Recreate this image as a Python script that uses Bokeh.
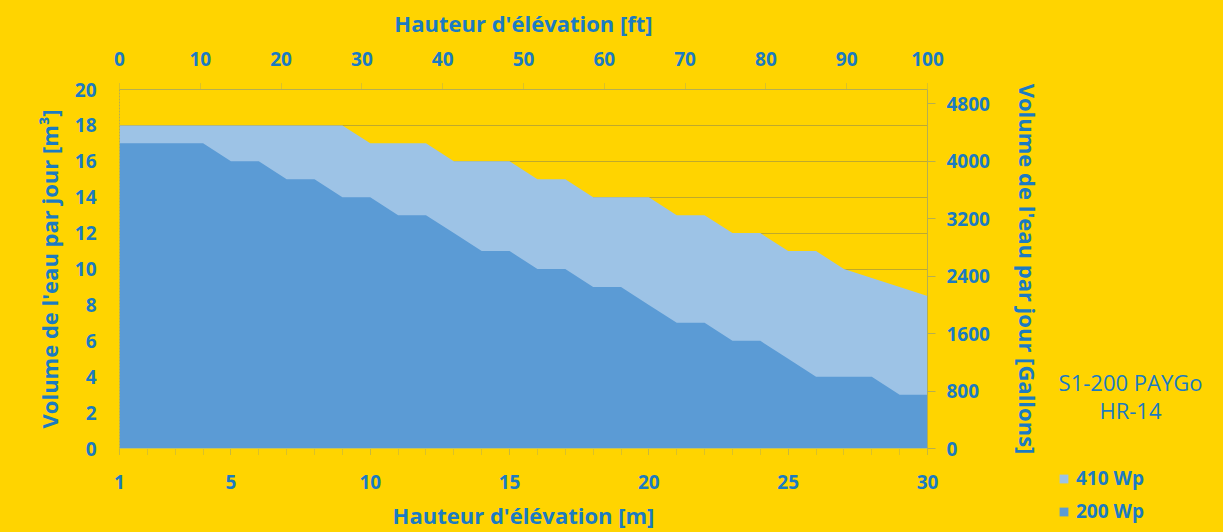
from bokeh.plotting import figure
from bokeh.layouts import row
from bokeh.models import Range1d, LinearAxis, FixedTicker, Legend, LegendItem, Label, ColumnDataSource
from bokeh.embed import file_html
from bokeh.resources import INLINE

# ---- data ----
height_m = list(range(1, 31))
vol_410 = [18, 18, 18, 18, 18, 18, 18, 18, 18, 17, 17, 17, 16, 16, 16, 15, 15, 14, 14, 14,
           13, 13, 12, 12, 11, 11, 10, 9.5, 9, 8.5]
vol_200 = [17, 17, 17, 17, 16, 16, 15, 15, 14, 14, 13, 13, 12, 11, 11, 10, 10, 9, 9, 8,
           7, 7, 6, 6, 5, 4, 4, 4, 3, 3]
series_labels = ["410 Wp", "200 Wp"]
m_ticks = [1, 5, 10, 15, 20, 25, 30]
m_minor_ticks = list(range(1, 31))
ft_ticks = [0, 10, 20, 30, 40, 50, 60, 70, 80, 90, 100]
m3_ticks = [0, 2, 4, 6, 8, 10, 12, 14, 16, 18, 20]
gal_ticks = [0, 800, 1600, 2400, 3200, 4000, 4800]
title_lines = ["S1-200 PAYGo", "HR-14"]

YELLOW = "#FFD400"
BLUE_TXT = "#1B7BC2"
LIGHT = "#9DC3E6"
DARK = "#5B9BD5"
GRID = "#BFA92C"
AXIS = "#B5AE52"
FONT = "Open Sans"

src = ColumnDataSource(dict(x=height_m, a=vol_410, b=vol_200))

W1 = 1045
TOP, BOTTOM = 89, 76
p = figure(width=W1, height=532, x_range=Range1d(1, 30), y_range=Range1d(0, 20),
           output_backend="svg", toolbar_location=None,
           min_border_left=119, min_border_right=W1 - 929, min_border_top=TOP, min_border_bottom=BOTTOM,
           background_fill_color=YELLOW, border_fill_color=YELLOW, outline_line_color=None)

r410 = p.varea(x="x", y1=0, y2="a", source=src, fill_color=LIGHT)
r200 = p.varea(x="x", y1=0, y2="b", source=src, fill_color=DARK)

p.extra_x_ranges = {"ft": Range1d(0, 100)}
p.extra_y_ranges = {"gal": Range1d(0, 5000)}

def style(ax):
    ax.major_label_text_font = FONT
    ax.major_label_text_font_style = "bold"
    ax.major_label_text_font_size = "19px"
    ax.major_label_text_color = BLUE_TXT
    ax.axis_label_text_font = FONT
    ax.axis_label_text_font_style = "bold"
    ax.axis_label_text_font_size = "22px"
    ax.axis_label_text_color = BLUE_TXT
    ax.axis_line_color = AXIS
    ax.major_tick_line_color = AXIS
    ax.minor_tick_line_color = AXIS
    ax.major_tick_in = 0
    ax.minor_tick_in = 0

xb = p.xaxis[0]
xb.ticker = FixedTicker(ticks=m_ticks, minor_ticks=m_minor_ticks)
xb.axis_label = "Hauteur d'élévation [m]"
style(xb)
xb.axis_line_color = None
xb.major_tick_out = 6
xb.minor_tick_out = 6
xb.major_tick_line_dash = "1 1"
xb.minor_tick_line_dash = "1 1"
xb.major_label_standoff = 20
xb.axis_label_standoff = 8

yl = p.yaxis[0]
yl.ticker = FixedTicker(ticks=m3_ticks)
yl.axis_label = "Volume de l'eau par jour [m³]"
style(yl)
yl.major_tick_out = 0
yl.minor_tick_out = 0
yl.axis_line_dash = "2 1"
yl.major_label_standoff = 23
yl.axis_label_standoff = 8

xt = LinearAxis(x_range_name="ft", ticker=FixedTicker(ticks=ft_ticks, minor_ticks=[]),
                axis_label="Hauteur d'élévation [ft]")
style(xt)
xt.major_tick_out = 6
xt.minor_tick_out = 0
xt.major_tick_line_dash = "1 1"
xt.major_label_standoff = 18
xt.axis_label_standoff = 11
p.add_layout(xt, "above")

yr = LinearAxis(y_range_name="gal", ticker=FixedTicker(ticks=gal_ticks, minor_ticks=[]),
                axis_label="Volume de l'eau par jour [Gallons]")
style(yr)
yr.major_tick_out = 8
yr.minor_tick_out = 0
yr.major_label_standoff = 11
yr.axis_label_standoff = 20
p.add_layout(yr, "right")

p.xgrid.visible = False
p.ygrid.grid_line_color = GRID
p.ygrid.grid_line_width = 1

# ---- legend panel: its own frame covers the whole strip (pixel-like coordinates) ----
W2 = 1223 - W1
q = figure(width=W2, height=532, x_range=Range1d(0, W2), y_range=Range1d(0, 532),
           output_backend="svg", toolbar_location=None,
           min_border_left=0, min_border_right=0, min_border_top=0, min_border_bottom=0,
           background_fill_color=YELLOW, border_fill_color=YELLOW, outline_line_color=None)
q.axis.visible = False
q.grid.visible = False
for fig in (p, q):
    if "frame_align" in fig.properties():
        fig.frame_align = False

k410 = q.varea(x=[0, 0], y1=[0, 0], y2=[0, 0], fill_color=LIGHT)
k200 = q.varea(x=[0, 0], y1=[0, 0], y2=[0, 0], fill_color=DARK)

legend = Legend(items=[LegendItem(label=series_labels[0], renderers=[k410]),
                       LegendItem(label=series_labels[1], renderers=[k200])],
                location=(13, 8), orientation="vertical",
                background_fill_alpha=0, border_line_color=None,
                label_text_font=FONT, label_text_font_style="bold",
                label_text_font_size="19px", label_text_color=BLUE_TXT,
                glyph_width=11, glyph_height=11, label_height=20, spacing=7,
                padding=0, margin=0, label_standoff=7)
q.add_layout(legend)

q.add_layout(Label(x=85, y=151, text=title_lines[0], text_align="center", text_baseline="middle",
                   text_font=FONT, text_font_size="22px", text_color=BLUE_TXT))
q.add_layout(Label(x=85, y=123, text=title_lines[1], text_align="center", text_baseline="middle",
                   text_font=FONT, text_font_size="22px", text_color=BLUE_TXT))

layout = row(p, q, spacing=0)
html = file_html(layout, INLINE)
html = html.replace("</head>", "<style>html,body{background:%s;}</style></head>" % YELLOW, 1)
open("out.html", "w").write(html)
